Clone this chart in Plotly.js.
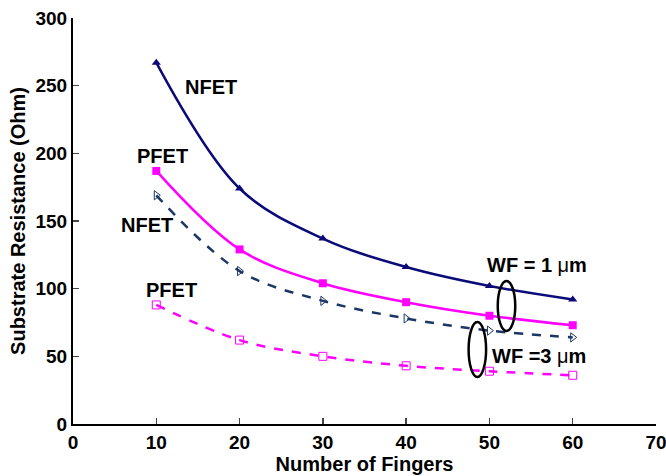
<!DOCTYPE html>
<html><head><meta charset="utf-8">
<script src="https://cdn.plot.ly/plotly-3.0.1.min.js"></script>
<style>body{margin:0;background:#fff}#c{width:666px;height:476px}</style>
</head><body><div id="c"></div>
<script>
const fingers = [10, 20, 30, 40, 50, 60];
const nfetWF1 = [267, 174, 137, 116, 102, 92];
const pfetWF1 = [187, 129, 104, 90, 80, 73];
const nfetWF3 = [169, 113, 91, 78, 69, 64];
const pfetWF3 = [88, 62, 50, 43, 39, 36];
const xTicks = [0, 10, 20, 30, 40, 50, 60, 70];
const yTicks = [0, 50, 100, 150, 200, 250, 300];

const navy = '#0a0a78', navyDash = '#1c3766', mag = '#ff00ff';
const traces = [
  {x: fingers, y: nfetWF1, name: 'NFET WF=1', mode: 'lines+markers', line: {color: navy, width: 2.5, shape: 'spline'}, marker: {symbol: 'triangle-up', size: 8, color: navy}},
  {x: fingers, y: pfetWF1, name: 'PFET WF=1', mode: 'lines+markers', line: {color: mag, width: 2.5, shape: 'spline'}, marker: {symbol: 'square', size: 8, color: mag}},
  {x: fingers, y: nfetWF3, name: 'NFET WF=3', mode: 'lines+markers', line: {color: navyDash, width: 2.5, dash: 'dash', shape: 'spline'}, marker: {symbol: 'triangle-right-open', size: 8, color: navyDash, line: {width: 1}}},
  {x: fingers, y: pfetWF3, name: 'PFET WF=3', mode: 'lines+markers', line: {color: mag, width: 2.5, dash: 'dash', shape: 'spline'}, marker: {symbol: 'square-open', size: 8, color: mag, line: {width: 1}}}
];
const bf = {family: 'Liberation Sans, Arial, sans-serif', size: 20, color: '#000'};
const layout = {
  width: 666, height: 476,
  margin: {l: 73, r: 10, t: 18, b: 52},
  paper_bgcolor: '#fff', plot_bgcolor: '#fff',
  showlegend: false,
  font: {family: 'Liberation Sans, Arial, sans-serif', color: '#000'},
  xaxis: {range: [0, 70], tickvals: xTicks, ticktext: xTicks.map(v => '<b>' + v + '</b>'), automargin: false, ticklabeloverflow: 'allow',
    ticks: 'inside', ticklen: 6, tickwidth: 1.5, showline: true, linewidth: 2, linecolor: '#000', showgrid: false, zeroline: false,
    tickfont: {size: 19}, title: {text: '<b>Number of Fingers</b>', font: {size: 20}, standoff: 2}},
  yaxis: {range: [0, 300], tickvals: yTicks, ticktext: yTicks.map(v => '<b>' + v + '</b>'), automargin: false, ticklabeloverflow: 'allow',
    ticks: 'inside', ticklen: 6, tickwidth: 1.5, showline: true, linewidth: 2, linecolor: '#000', showgrid: false, zeroline: false,
    tickfont: {size: 19}, title: {text: '<b>Substrate Resistance (Ohm)</b>', font: {size: 20}, standoff: 4}},
  annotations: [
    {x: 16.6, y: 249, text: '<b>NFET</b>', showarrow: false, font: bf},
    {x: 10.7, y: 198, text: '<b>PFET</b>', showarrow: false, font: bf},
    {x: 8.9, y: 147, text: '<b>NFET</b>', showarrow: false, font: bf},
    {x: 11.8, y: 99, text: '<b>PFET</b>', showarrow: false, font: bf},
    {x: 55.7, y: 117.5, text: '<b>WF = 1 </b>μ<b>m</b>', showarrow: false, font: bf},
    {x: 56.0, y: 50, text: '<b>WF =3 </b>μ<b>m</b>', showarrow: false, font: bf}
  ],
  shapes: [
    {type: 'circle', xref: 'x', yref: 'y', x0: 51.0, x1: 53.1, y0: 68.7, y1: 105.7, line: {color: '#000', width: 2.5}},
    {type: 'circle', xref: 'x', yref: 'y', x0: 47.5, x1: 49.6, y0: 34.7, y1: 75.4, line: {color: '#000', width: 2.5}}
  ]
};
Plotly.newPlot('c', traces, layout, {displayModeBar: false, staticPlot: true});
</script></body></html>
